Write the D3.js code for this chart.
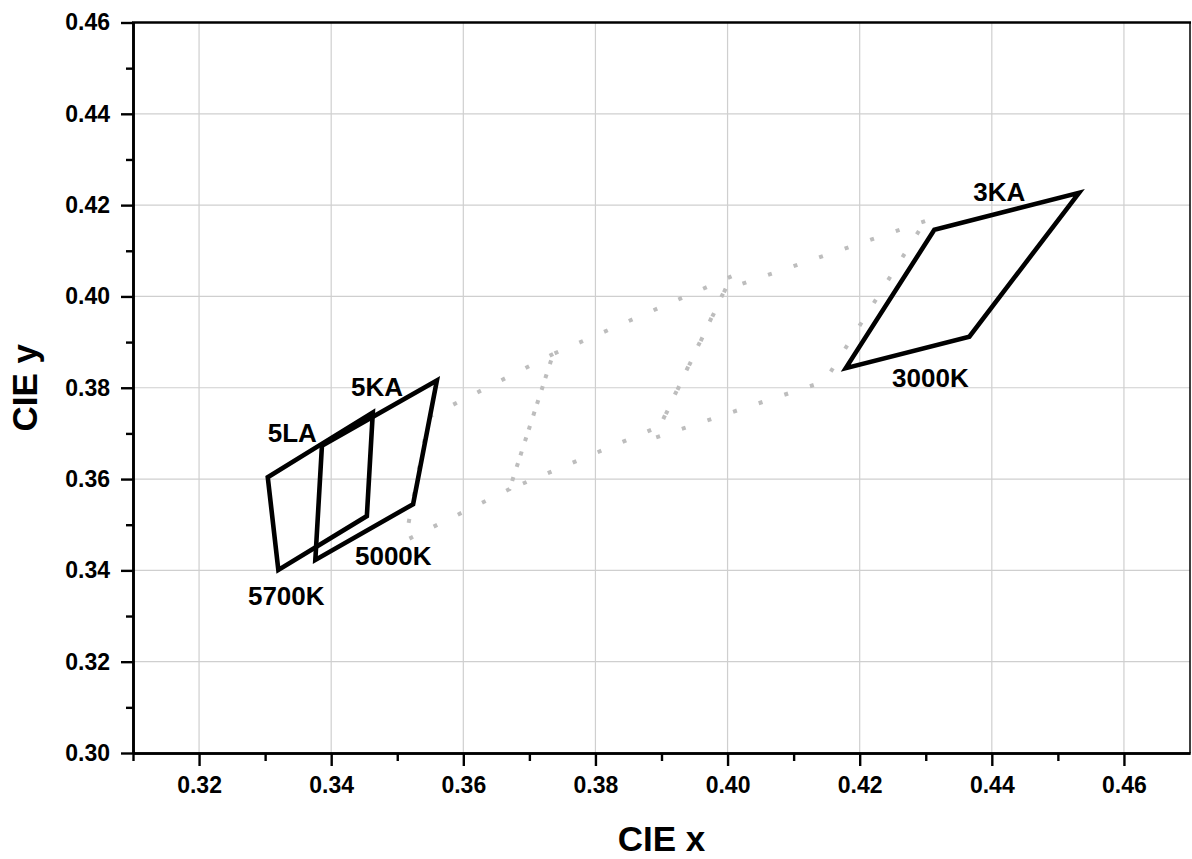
<!DOCTYPE html>
<html>
<head>
<meta charset="utf-8">
<script src="https://cdn.jsdelivr.net/npm/d3@7"></script>
<style>
  html, body { margin: 0; padding: 0; background: #fff; }
  svg { display: block; font-family: "Liberation Sans", Arial, sans-serif; font-weight: bold; }
</style>
</head>
<body>
<svg id="chart" width="1192" height="859"></svg>
<script>
// Measured chromaticity quadrangles (vertices in order)
const q5700Kx = [0.3304, 0.3320, 0.3454, 0.3463];
const q5700Ky = [0.3604, 0.3401, 0.3519, 0.3746];
const q5000Kx = [0.3386, 0.3376, 0.3524, 0.3560];
const q5000Ky = [0.3673, 0.3423, 0.3545, 0.3816];
const q3000Kx = [0.4313, 0.4179, 0.4366, 0.4532];
const q3000Ky = [0.4146, 0.3843, 0.3912, 0.4227];

// ANSI C78.377 reference quadrangles (dotted)
const ansi4500Kx = [0.3736, 0.3548, 0.3512, 0.3670];
const ansi4500Ky = [0.3874, 0.3736, 0.3465, 0.3578];
const ansi4000Kx = [0.4006, 0.3736, 0.3670, 0.3898];
const ansi4000Ky = [0.4044, 0.3874, 0.3578, 0.3716];
const ansi3500Kx = [0.4299, 0.3996, 0.3889, 0.4147];
const ansi3500Ky = [0.4165, 0.4015, 0.3690, 0.3814];

// Annotation texts and their anchor points (CIE x, CIE y)
const labelTexts = ["5LA", "5KA", "5700K", "5000K", "3KA", "3000K"];
const labelX = [0.3304, 0.3430, 0.3274, 0.3436, 0.4372, 0.4249];
const labelY = [0.3682, 0.3782, 0.3324, 0.3412, 0.4208, 0.3802];

// Axis ticks
const xMajorTicks = [0.32, 0.34, 0.36, 0.38, 0.40, 0.42, 0.44, 0.46];
const xMinorTicks = [0.31, 0.33, 0.35, 0.37, 0.39, 0.41, 0.43, 0.45];
const yMajorTicks = [0.30, 0.32, 0.34, 0.36, 0.38, 0.40, 0.42, 0.44, 0.46];
const yMinorTicks = [0.31, 0.33, 0.35, 0.37, 0.39, 0.41, 0.43, 0.45];

const svg = d3.select("#chart");
const plotLeft = 133, plotRight = 1190, plotTop = 22.5, plotBottom = 753;

const x = d3.scaleLinear().domain([0.31, 0.47]).range([plotLeft, plotRight]);
const y = d3.scaleLinear().domain([0.30, 0.46]).range([plotBottom, plotTop]);

const zip = (xs, ys) => xs.map((v, i) => [v, ys[i]]);
const line = d3.line().x(d => x(d[0])).y(d => y(d[1])).curve(d3.curveLinearClosed);

// Grid
const grid = svg.append("g").attr("stroke", "#cfcfcf").attr("stroke-width", 1.2);
grid.selectAll("line.gx").data(xMajorTicks).join("line")
  .attr("x1", d => x(d)).attr("x2", d => x(d)).attr("y1", plotTop).attr("y2", plotBottom);
grid.selectAll("line.gy").data(yMajorTicks.slice(1, -1)).join("line")
  .attr("x1", plotLeft).attr("x2", plotRight).attr("y1", d => y(d)).attr("y2", d => y(d));

// Dotted reference quadrangles
const refQuads = [zip(ansi4500Kx, ansi4500Ky), zip(ansi4000Kx, ansi4000Ky), zip(ansi3500Kx, ansi3500Ky)];
svg.append("g").selectAll("path").data(refQuads).join("path")
  .attr("d", line)
  .attr("fill", "none")
  .attr("stroke", "#bdbdbd")
  .attr("stroke-width", 4)
  .attr("stroke-dasharray", "4 23");

// Measured quadrangles
const quads = [zip(q5700Kx, q5700Ky), zip(q5000Kx, q5000Ky), zip(q3000Kx, q3000Ky)];
svg.append("g").selectAll("path").data(quads).join("path")
  .attr("d", line)
  .attr("fill", "none")
  .attr("stroke", "#000")
  .attr("stroke-width", 4.6)
  .attr("stroke-linejoin", "miter");

// Labels
svg.append("g").selectAll("text").data(labelTexts).join("text")
  .attr("x", (d, i) => x(labelX[i]))
  .attr("y", (d, i) => y(labelY[i]))
  .attr("font-size", 26)
  .attr("fill", "#000")
  .text(d => d);

// Axes
const fmt = d3.format(".2f");
const gx = svg.append("g").attr("transform", `translate(0,${plotBottom})`)
  .call(d3.axisBottom(x).tickValues(xMajorTicks).tickFormat(fmt).tickSize(13).tickPadding(11).tickSizeOuter(0));
const gxm = svg.append("g").attr("transform", `translate(0,${plotBottom})`)
  .call(d3.axisBottom(x).tickValues(xMinorTicks).tickFormat("").tickSize(8).tickSizeOuter(0));
const gy = svg.append("g").attr("transform", `translate(${plotLeft},0)`)
  .call(d3.axisLeft(y).tickValues(yMajorTicks).tickFormat(fmt).tickSize(12).tickPadding(11).tickSizeOuter(0));
const gym = svg.append("g").attr("transform", `translate(${plotLeft},0)`)
  .call(d3.axisLeft(y).tickValues(yMinorTicks).tickFormat("").tickSize(7).tickSizeOuter(0));

[gx, gxm, gy, gym].forEach(g => {
  g.selectAll("path.domain").attr("stroke", "#000").attr("stroke-width", 2.6);
  g.selectAll(".tick line").attr("stroke", "#000").attr("stroke-width", 2.4);
  g.selectAll(".tick text").attr("fill", "#000")
    .attr("font-family", "'Liberation Sans', Arial, sans-serif")
    .attr("font-weight", "bold").attr("font-size", 23);
});

// Frame: top and right edges
svg.append("line").attr("x1", plotLeft - 1).attr("x2", plotRight + 1).attr("y1", plotTop).attr("y2", plotTop)
  .attr("stroke", "#000").attr("stroke-width", 2.6);
svg.append("line").attr("x1", plotRight).attr("x2", plotRight).attr("y1", plotTop).attr("y2", plotBottom)
  .attr("stroke", "#000").attr("stroke-width", 1.5);

// Axis titles
svg.append("text").attr("x", (plotLeft + plotRight) / 2).attr("y", 851)
  .attr("text-anchor", "middle").attr("font-size", 35).text("CIE x");
svg.append("text").attr("transform", `translate(37,${(plotTop + plotBottom) / 2}) rotate(-90)`)
  .attr("text-anchor", "middle").attr("font-size", 35).text("CIE y");
</script>
</body>
</html>
